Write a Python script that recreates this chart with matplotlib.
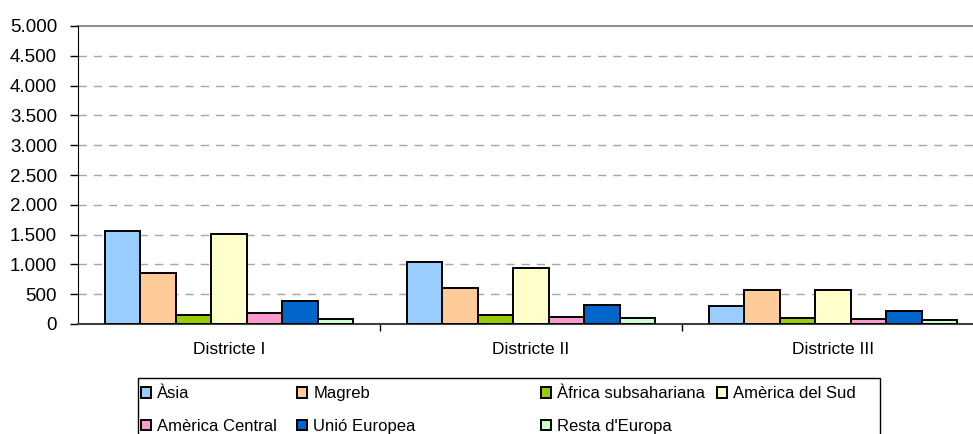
import matplotlib
matplotlib.use("Agg")
import matplotlib.pyplot as plt
from matplotlib.ticker import FuncFormatter
from matplotlib.patches import Patch, Rectangle
import numpy as np

plt.rcParams['font.family'] = ['Liberation Sans', 'DejaVu Sans']

# dades
districtes = ["Districte I", "Districte II", "Districte III"]
series = ["Àsia", "Magreb", "Àfrica subsahariana", "Amèrica del Sud",
          "Amèrica Central", "Unió Europea", "Resta d'Europa"]
asia = [1565, 1035, 310]
magreb = [850, 600, 565]
africa = [150, 155, 95]
america_sud = [1505, 945, 570]
america_central = [190, 125, 90]
unio_europea = [380, 315, 225]
resta_europa = [90, 95, 65]
valors = [asia, magreb, africa, america_sud, america_central, unio_europea, resta_europa]
colors = ["#99CCFF", "#FFCC99", "#99CC00", "#FFFFCC", "#FF99CC", "#0066CC", "#CCFFCC"]

W, H = 973, 434
fig = plt.figure(figsize=(W / 100, H / 100), dpi=100)
ax = fig.add_axes([78 / W, (H - 324) / H, (984 - 78) / W, (324 - 26) / H])

n = len(series)
bw = 0.824 / n
x0 = np.arange(len(districtes)) + (1 - 0.824) / 2
for i in range(n):
    ax.bar(x0 + i * bw, valors[i], width=bw, align="edge", color=colors[i],
           edgecolor="black", linewidth=1.4, zorder=3)

ax.set_xlim(0, 3)
ax.set_ylim(0, 5000)
ax.set_yticks(np.arange(0, 5001, 500))
ax.yaxis.set_major_formatter(FuncFormatter(lambda v, p: f"{int(v):,}".replace(",", ".")))
for y in np.arange(500, 5000, 500):
    ax.axhline(y, color="#A6A6A6", linestyle=(0, (6, 5)), linewidth=1.0, zorder=1)
ax.axhline(5000, color="#8C8C8C", linewidth=1.4, zorder=1, clip_on=False)

ax.set_xticks([1, 2, 3])
ax.set_xticklabels([])
ax.set_xticks([0.5, 1.5, 2.5], minor=True)
ax.set_xticklabels(districtes, minor=True)
ax.tick_params(axis="x", which="minor", length=0, pad=13, labelsize=12.5)
ax.tick_params(axis="x", which="major", length=5, width=1, color="black", direction="out")
ax.tick_params(axis="y", length=6, width=1, direction="out", pad=9, labelsize=13.5)

for s in ["top", "right"]:
    ax.spines[s].set_visible(False)
ax.spines["left"].set_color("black")
ax.spines["bottom"].set_color("#404040")
ax.spines["bottom"].set_linewidth(1.5)

# llegenda: marc + una columna per cada posicio
fig.patches.append(Rectangle((138 / W, -0.05), (880 - 138) / W, 0.05 + (H - 378) / H,
                             transform=fig.transFigure, facecolor="white",
                             edgecolor="black", linewidth=1.0, zorder=0))
col_x = [138, 294, 538, 714]
ncol = 4
for c in range(ncol):
    idx = [i for i in range(n) if i % ncol == c]
    handles = [Patch(facecolor=colors[i], edgecolor="black", linewidth=1.4) for i in idx]
    labels = [series[i] for i in idx]
    fig.legend(handles, labels, loc="upper left",
               bbox_to_anchor=(col_x[c] / W, 1 - 383 / H),
               fontsize=12, frameon=False, handlelength=0.6,
               handleheight=0.6, handletextpad=0.35, labelspacing=1.05,
               borderaxespad=0, borderpad=0.2)

fig.savefig("out.png", dpi=100)
